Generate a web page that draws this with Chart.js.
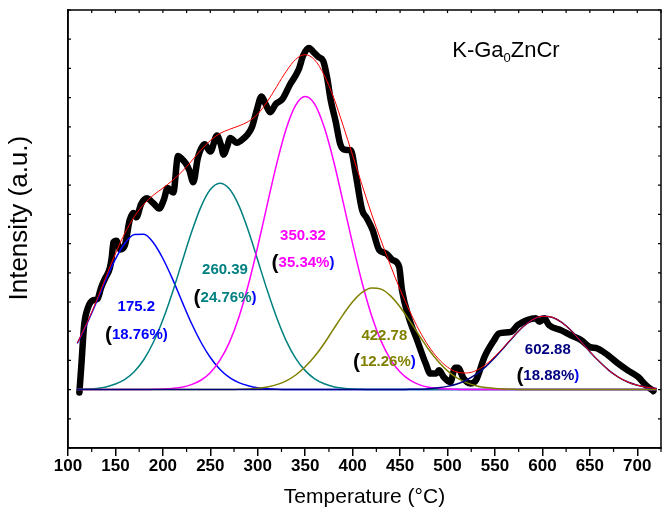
<!DOCTYPE html>
<html>
<head>
<meta charset="utf-8">
<script src="https://cdn.jsdelivr.net/npm/chart.js@4.4.1/dist/chart.umd.min.js"></script>
<style>
  body { margin: 0; background: #fff; }
  canvas { display: block; }
</style>
</head>
<body>
<canvas id="tpr" width="664" height="520"></canvas>
<script>
// measured TPR profile (thick black line)
const measuredT = [112, 114, 117, 121, 126, 131, 135, 139, 144, 146, 148, 151, 155, 160, 165, 169, 172, 177, 183, 190,
  196, 201, 205, 211, 216, 220, 224, 228, 232, 237, 244, 250, 257, 261, 264, 268, 271, 278, 282, 289,
  294, 299, 304, 308, 313, 319, 326, 334, 343, 348, 354, 359, 364, 369, 373, 377, 382, 387, 392, 398,
  403, 410, 415, 421, 428, 435, 442, 449, 452, 459, 468, 477, 482, 488, 491, 496, 503, 508, 511, 517,
  524, 530, 539, 549, 554, 567, 574, 584, 593, 597, 602, 607, 620, 630, 641, 650, 658, 669, 680, 690,
  701, 709, 717];
const measuredI = [-0.1, 0.8, 2.2, 2.8, 3.05, 3.1, 3.5, 3.8, 4.15, 4.5, 5.05, 5.1, 4.8, 4.95, 5.8, 6.05, 5.9, 6.35, 6.55, 6.38,
  6.2, 6.5, 6.9, 6.75, 8.0, 7.9, 7.75, 7.5, 7.1, 7.95, 8.4, 8.15, 8.7, 8.4, 8.05, 8.35, 8.62, 8.45, 8.52, 8.73,
  9.0, 9.58, 10.04, 9.8, 9.5, 9.78, 9.95, 10.45, 10.95, 11.45, 11.7, 11.55, 11.39, 11.25, 10.7, 9.9, 9.2, 8.4, 8.21, 8.2,
  7.42, 6.15, 5.87, 5.47, 4.78, 4.67, 4.44, 4.21, 3.41, 2.49, 1.69, 0.89, 0.55, 0.55, 0.66, 0.43, 0.26, 0.75, 0.75, 0.38,
  0.21, 0.32, 1.12, 1.69, 1.92, 1.98, 2.21, 2.38, 2.44, 2.32, 2.44, 2.21, 2.03, 1.86, 1.69, 1.46, 1.41, 1.18, 0.89, 0.66,
  0.43, 0.15, -0.05];

// fitted peaks, sampled every 10 degC
const fitT = [110, 120, 130, 140, 150, 160, 170, 180, 190, 200, 210, 220, 230, 240, 250, 260, 270, 280, 290, 300,
  310, 320, 330, 340, 350, 360, 370, 380, 390, 400, 410, 420, 430, 440, 450, 460, 470, 480, 490, 500,
  510, 520, 530, 540, 550, 560, 570, 580, 590, 600, 610, 620, 630, 640, 650, 660, 670, 680, 690, 700,
  710, 720];
const peak175 = [1.60, 2.26, 3.00, 3.77, 4.47, 5.01, 5.31, 5.32, 5.03, 4.49, 3.80, 3.03, 2.28, 1.63, 1.10, 0.70, 0.42, 0.24, 0.13, 0.06,
  0.03, 0.01, 0, 0, 0, 0, 0, 0, 0, 0, 0, 0, 0, 0, 0, 0, 0, 0, 0, 0,
  0, 0, 0, 0, 0, 0, 0, 0, 0, 0, 0, 0, 0, 0, 0, 0, 0, 0, 0, 0,
  0, 0];
const peak260 = [0.01, 0.02, 0.04, 0.09, 0.19, 0.35, 0.62, 1.03, 1.62, 2.39, 3.32, 4.35, 5.37, 6.25, 6.85, 7.07, 6.88, 6.31, 5.45, 4.43,
  3.40, 2.46, 1.67, 1.07, 0.65, 0.37, 0.20, 0.10, 0.05, 0.02, 0.01, 0, 0, 0, 0, 0, 0, 0, 0, 0,
  0, 0, 0, 0, 0, 0, 0, 0, 0, 0, 0, 0, 0, 0, 0, 0, 0, 0, 0, 0,
  0, 0];
const peak350 = [0, 0, 0, 0, 0, 0, 0, 0, 0.01, 0.02, 0.04, 0.08, 0.17, 0.32, 0.58, 1.00, 1.61, 2.47, 3.58, 4.90,
  6.34, 7.74, 8.93, 9.74, 10.04, 9.78, 8.99, 7.82, 6.42, 4.99, 3.66, 2.53, 1.66, 1.03, 0.60, 0.33, 0.17, 0.08, 0.04, 0.02,
  0.01, 0, 0, 0, 0, 0, 0, 0, 0, 0, 0, 0, 0, 0, 0, 0, 0, 0, 0, 0,
  0, 0];
const peak423 = [0, 0, 0, 0, 0, 0, 0, 0, 0, 0, 0, 0, 0, 0, 0, 0, 0, 0.01, 0.02, 0.05,
  0.09, 0.17, 0.30, 0.50, 0.78, 1.14, 1.58, 2.08, 2.57, 3.01, 3.33, 3.48, 3.44, 3.21, 2.83, 2.36, 1.86, 1.38, 0.97, 0.64,
  0.40, 0.24, 0.13, 0.07, 0.04, 0.02, 0.01, 0, 0, 0, 0, 0, 0, 0, 0, 0, 0, 0, 0, 0,
  0, 0];
const peak603 = [0, 0, 0, 0, 0, 0, 0, 0, 0, 0, 0, 0, 0, 0, 0, 0, 0, 0, 0, 0,
  0, 0, 0, 0, 0, 0, 0, 0, 0, 0, 0, 0, 0, 0, 0, 0.01, 0.01, 0.03, 0.06, 0.11,
  0.19, 0.33, 0.52, 0.78, 1.10, 1.46, 1.83, 2.16, 2.40, 2.51, 2.48, 2.31, 2.03, 1.67, 1.30, 0.96, 0.66, 0.43, 0.26, 0.15,
  0.08, 0.04];
const fitSum = [1.61, 2.28, 3.04, 3.86, 4.66, 5.36, 5.93, 6.35, 6.66, 6.90, 7.16, 7.46, 7.82, 8.20, 8.53, 8.77, 8.91, 9.03, 9.18, 9.44,
  9.86, 10.38, 10.90, 11.31, 11.47, 11.29, 10.77, 10.00, 9.04, 8.02, 7.00, 6.01, 5.10, 4.24, 3.43, 2.70, 2.04, 1.49, 1.07, 0.77,
  0.60, 0.57, 0.65, 0.85, 1.14, 1.48, 1.84, 2.16, 2.40, 2.51, 2.48, 2.31, 2.03, 1.67, 1.30, 0.96, 0.66, 0.43, 0.26, 0.15,
  0.08, 0.04];

const xTicks = [100, 125, 150, 175, 200, 225, 250, 275, 300, 325, 350, 375, 400, 425, 450, 475, 500, 525, 550, 575,
  600, 625, 650, 675, 700, 725];

// peak labels: centre temperature, share, colour, anchor in data units
const peakLabels = [
  { top: "175.2", pct: "18.76%", color: "#0000FF", x: 172, y: 2.82, y2: 1.86 },
  { top: "260.39", pct: "24.76%", color: "#008080", x: 265.5, y: 4.09, y2: 3.13 },
  { top: "350.32", pct: "35.34%", color: "#FF00FF", x: 347.7, y: 5.26, y2: 4.34 },
  { top: "422.78", pct: "12.26%", color: "#808000", x: 433.4, y: 1.83, y2: 0.95 },
  { top: "602.88", pct: "18.88%", color: "#000080", x: 605.7, y: 1.37, y2: 0.47 },
];

const SANS = '"Liberation Sans", Arial, sans-serif';
const pts = (xs, ys) => xs.map((v, i) => ({ x: v, y: ys[i] }));

function curve(label, xs, ys, color, width) {
  return {
    label, data: pts(xs, ys), borderColor: color, borderWidth: width,
    pointRadius: 0, fill: false, cubicInterpolationMode: "monotone",
    borderCapStyle: "round", borderJoinStyle: "round",
  };
}

const frameTicks = {
  id: "frameTicks",
  afterDraw(chart) {
    const { ctx, chartArea: a, scales: { x, y } } = chart;
    ctx.save();
    ctx.strokeStyle = "#000";
    ctx.lineWidth = 1.2;
    ctx.beginPath();
    x.ticks.forEach(t => {
      const px = x.getPixelForValue(t.value);
      ctx.moveTo(px, a.top);
      ctx.lineTo(px, a.top + 3);
      if (t.value % 50 !== 0) {
        ctx.moveTo(px, a.bottom);
        ctx.lineTo(px, a.bottom + 4);
      }
    });
    y.ticks.forEach(t => {
      const py = y.getPixelForValue(t.value);
      ctx.moveTo(a.left, py);
      ctx.lineTo(a.left + 3, py);
      ctx.moveTo(a.right, py);
      ctx.lineTo(a.right - 3, py);
    });
    ctx.stroke();
    ctx.lineWidth = 1.5;
    ctx.strokeRect(a.left, a.top, a.right - a.left, a.bottom - a.top);
    ctx.restore();
  },
};

const peakText = {
  id: "peakText",
  afterDatasetsDraw(chart) {
    const { ctx, scales: { x, y } } = chart;
    ctx.save();
    ctx.textBaseline = "middle";
    const bold = "bold 15px " + SANS;
    const paren = "bold 21px " + SANS;
    peakLabels.forEach(p => {
      ctx.font = bold;
      ctx.fillStyle = p.color;
      ctx.textAlign = "center";
      ctx.fillText(p.top, x.getPixelForValue(p.x), y.getPixelForValue(p.y));
      ctx.textAlign = "left";
      // "(" black and larger, ")" blue
      const parts = [["(", paren, "#000"], [p.pct, bold, p.color], [")", bold, "#0000FF"]];
      let w = 0;
      parts.forEach(([t, f]) => { ctx.font = f; w += ctx.measureText(t).width; });
      let cx = x.getPixelForValue(p.x) - w / 2;
      const cy = y.getPixelForValue(p.y2);
      parts.forEach(([t, f, c]) => {
        ctx.font = f;
        ctx.fillStyle = c;
        ctx.fillText(t, cx, cy);
        cx += ctx.measureText(t).width;
      });
    });
    // sample name with subscript
    const name = [["K-Ga", 0], ["0", 1], ["ZnCr", 0]];
    const big = "22px " + SANS, small = "13px " + SANS;
    let w = 0;
    name.forEach(([t, s]) => { ctx.font = s ? small : big; w += ctx.measureText(t).width; });
    let nx = x.getPixelForValue(561.6) - w / 2;
    const ny = y.getPixelForValue(11.59);
    ctx.fillStyle = "#000";
    ctx.textAlign = "left";
    name.forEach(([t, s]) => {
      ctx.font = s ? small : big;
      ctx.fillText(t, nx, s ? ny + 7 : ny);
      nx += ctx.measureText(t).width;
    });
    ctx.restore();
  },
};

new Chart(document.getElementById("tpr"), {
  type: "line",
  data: {
    datasets: [
      curve("Fit", fitT, fitSum, "#FF0000", 1),
      curve("602.88", fitT, peak603, "#000080", 1.5),
      curve("422.78", fitT, peak423, "#808000", 1.5),
      curve("350.32", fitT, peak350, "#FF00FF", 1.5),
      curve("260.39", fitT, peak260, "#008080", 1.5),
      curve("175.2", fitT, peak175, "#0000FF", 1.5),
      curve("K-Ga0ZnCr", measuredT, measuredI, "#000000", 6.5),
    ],
  },
  options: {
    responsive: false,
    animation: false,
    layout: { padding: { left: 3, right: 3, top: 10, bottom: 5 } },
    plugins: { legend: { display: false }, tooltip: { enabled: false } },
    scales: {
      x: {
        type: "linear",
        min: 100,
        max: 725,
        afterBuildTicks: scale => { scale.ticks = xTicks.map(v => ({ value: v })); },
        ticks: {
          autoSkip: false,
          maxRotation: 0,
          padding: 0,
          color: "#000",
          font: { family: SANS, size: 17, weight: "bold" },
          callback: v => (v % 50 === 0 && v <= 700 ? String(v) : ""),
        },
        grid: {
          drawOnChartArea: false,
          tickLength: 8,
          lineWidth: 1.5,
          color: c => (c.tick && c.tick.value % 50 === 0 ? "#000" : "rgba(0,0,0,0)"),
        },
        border: { color: "#000", width: 1.5 },
        title: {
          display: true,
          text: "Temperature (\u00B0C)",
          color: "#000",
          font: { family: SANS, size: 21 },
          padding: { top: 8, bottom: 5.4 },
        },
      },
      y: {
        min: -2,
        max: 13,
        ticks: { display: false, stepSize: 1 },
        grid: { display: false, drawTicks: false },
        border: { color: "#000", width: 1.5 },
        title: {
          display: true,
          text: "   Intensity (a.u.)",
          color: "#000",
          font: { family: SANS, size: 26 },
          padding: { top: 1.4, bottom: 32.4 },
        },
      },
    },
  },
  plugins: [frameTicks, peakText],
});
</script>
</body>
</html>
